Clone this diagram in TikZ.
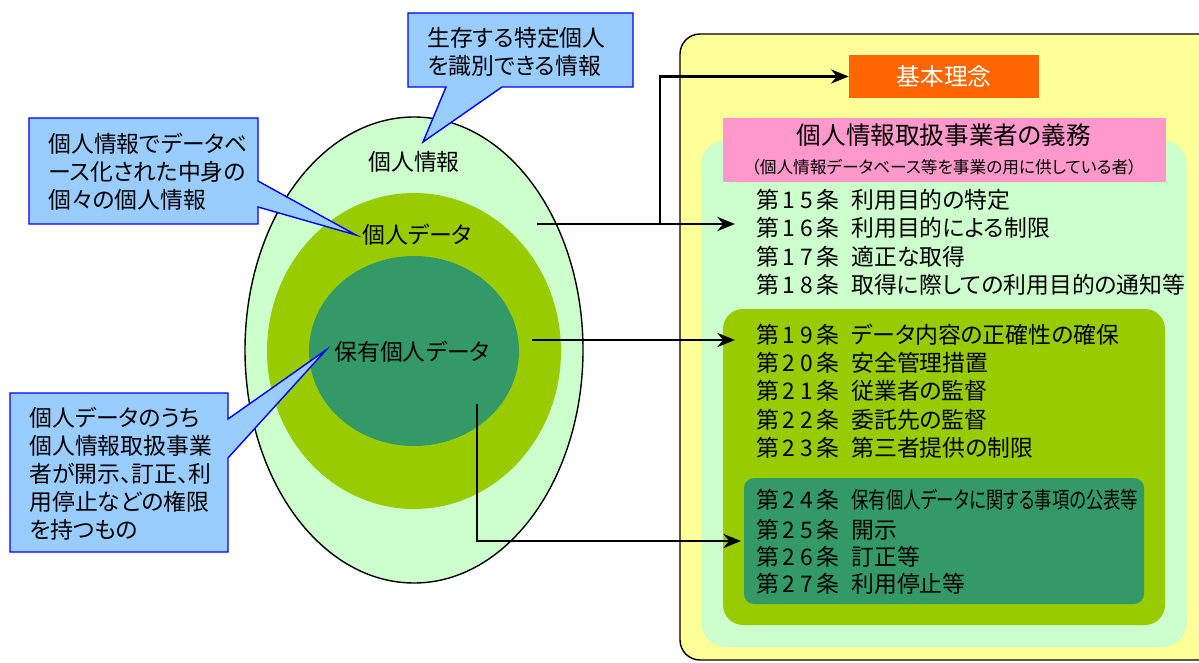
\documentclass[tikz,border=0pt]{standalone}
\usepackage{fontspec}
\setmainfont[RawFeature={+palt}]{Noto Sans CJK JP}
\usetikzlibrary{arrows.meta}
\definecolor{lgreen}{HTML}{CCFFCC}
\definecolor{ygreen}{HTML}{99CC00}
\definecolor{dgreen}{HTML}{339966}
\definecolor{cblue}{HTML}{99CCFF}
\definecolor{lyellow}{HTML}{FFFF99}
\definecolor{orng}{HTML}{FF6600}
\definecolor{pnk}{HTML}{FF99CC}
\newcommand\jo[2]{\makebox[1.9cm][l]{第\kern2pt#1\kern3pt#2\kern2pt 条}}
\begin{document}
\begin{tikzpicture}[x=0.02cm,y=-0.02cm,
  txt/.style={font=\fontsize{13}{15.9}\selectfont, inner sep=0pt},
  art/.style={txt, anchor=west},
  callout/.style={draw=blue, fill=cblue, line width=0.8pt, line join=miter},
  conn/.style={line width=1.6pt, -{Stealth[length=10pt,width=8pt]}},
  plain/.style={line width=1.6pt}]
\useasboundingbox (0,0) rectangle (1199,662);
\clip (0,0) rectangle (1199,662);

% ellipses
\draw[fill=lgreen, line width=0.8pt] (414,350) ellipse [x radius=169, y radius=233];
\fill[ygreen] (414,351) ellipse [x radius=147, y radius=158];
\fill[dgreen] (414,351) ellipse [x radius=105, y radius=95];
\node[txt] (kj) at (414,162) {個人情報};
\node[txt] (kd) at (417,235) {個人データ};
\node[txt] (hd) at (412,352) {保有個人データ};

% callouts
\draw[callout] (408,13) -- (633,13) -- (633,87) -- (502,87) -- (423,142) -- (446,87) -- (408,87) -- cycle;
\node[txt, align=left, anchor=west] (c1) at (427,51.5) {生存する特定個人\\を識別できる情報};
\draw[callout] (29,118) -- (258,118) -- (258,181) -- (356,235) -- (258,207) -- (258,224) -- (29,224) -- cycle;
\node[txt, align=left, anchor=west] (c2) at (48,171.5) {個人情報でデータベ\\ース化された中身の\\個々の個人情報};
\draw[callout] (10,393) -- (228,393) -- (228,419) -- (326,350) -- (228,458) -- (228,552) -- (10,552) -- cycle;
\node[txt, align=left, anchor=west] (c3) at (29,474) {個人データのうち\\個人情報取扱事業\\者が開示、訂正、利\\用停止などの権限\\を持つもの};

% right panel
\draw[fill=lyellow, line width=0.8pt, rounded corners=0.4cm] (680,34) rectangle (1240,660);
\fill[lgreen, rounded corners=0.5cm] (701,140) rectangle (1187,647);
\fill[pnk] (723,118) rectangle (1166,182);
\node[txt, font=\fontsize{14}{16}\selectfont] (gimu) at (944,135) {個人情報取扱事業者の義務};
\node[txt, font=\fontsize{9.5}{11}\selectfont] (sub) at (944,167) {（個人情報データベース等を事業の用に供している者）};
\node[fill=orng, text=white, font=\fontsize{13.5}{16}\selectfont, minimum width=3.8cm, minimum height=0.86cm, inner sep=0pt] (kihon) at (944,76.5) {基本理念};

\fill[ygreen, rounded corners=0.4cm] (723,309) rectangle (1165,625);
\fill[dgreen, rounded corners=0.2cm] (744,478) rectangle (1144,604);

\node[art] (a15) at (756,200) {\jo{1}{5}利用目的の特定};
\node[art] (a16) at (756,228) {\jo{1}{6}利用目的による制限};
\node[art] (a17) at (756,257) {\jo{1}{7}適正な取得};
\node[art] (a18) at (756,285) {\jo{1}{8}取得に際しての利用目的の通知等};
\node[art] (a19) at (756,335) {\jo{1}{9}データ内容の正確性の確保};
\node[art] (a20) at (756,363) {\jo{2}{0}安全管理措置};
\node[art] (a21) at (756,391) {\jo{2}{1}従業者の監督};
\node[art] (a22) at (756,420) {\jo{2}{2}委託先の監督};
\node[art] (a23) at (756,448) {\jo{2}{3}第三者提供の制限};
\node[art] (a24) at (756,500) {\jo{2}{4}\scalebox{0.76}[1]{保有個人データに関する事項の公表等}};
\node[art] (a25) at (756,530) {\jo{2}{5}開示};
\node[art] (a26) at (756,557) {\jo{2}{6}訂正等};
\node[art] (a27) at (756,584) {\jo{2}{7}利用停止等};

% connectors
\coordinate (s1) at (537,224);
\coordinate (j1) at (660,224);
\coordinate (t16) at (735,224);
\coordinate (s2) at (532,340);
\coordinate (t19) at (735,340);
\coordinate (s3) at (477,404);
\coordinate (t25) at (741,541);
\draw[conn] (s1) -- (t16);
\draw[conn] (j1) |- (kihon.west);
\draw[conn] (s2) -- (t19);
\draw[conn] (s3) |- (t25);
\end{tikzpicture}
\end{document}
